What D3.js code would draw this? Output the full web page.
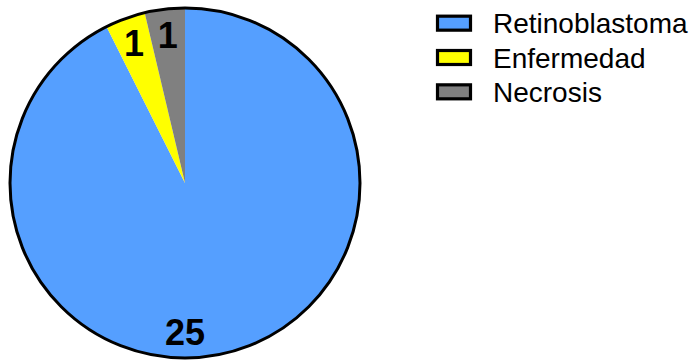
<!DOCTYPE html>
<html><head><meta charset="utf-8">
<script src="https://cdn.jsdelivr.net/npm/d3@7"></script>
<style>html,body{margin:0;padding:0;background:#fff;}svg{display:block;}</style>
</head><body>
<svg id="c" width="689" height="362"></svg>
<script>
const categories = ["Retinoblastoma", "Enfermedad", "Necrosis"];
const values = [25, 1, 1];
const colors = ["#559fff", "#ffff00", "#808080"];

const svg = d3.select("#c");
const cx = 185, cy = 183, R = 175;
const g = svg.append("g").attr("transform", `translate(${cx},${cy})`);
const data = categories.map((c, i) => ({name: c, value: values[i], color: colors[i]}));
const pie = d3.pie().value(d => d.value).sort(null);
const arcs = pie(data);
const arc = d3.arc().innerRadius(0).outerRadius(R);
g.selectAll("path.s").data(arcs).join("path").attr("class", "s")
  .attr("d", arc).attr("fill", d => d.data.color);
g.append("circle").attr("r", R).attr("fill", "none").attr("stroke", "#000").attr("stroke-width", 3);
const maxV = d3.max(values);
const lr = 149;
function labelPos(d) {
  // the dominant slice's label sits at the bottom of the pie
  const a = d.data.value === maxV ? Math.PI : (d.startAngle + d.endAngle) / 2;
  return [lr * Math.sin(a), -lr * Math.cos(a)];
}
g.selectAll("text.l").data(arcs).join("text").attr("class", "l")
  .attr("transform", d => `translate(${labelPos(d)})`)
  .attr("text-anchor", "middle").attr("dy", "0.36em")
  .attr("font-family", "Liberation Sans, Arial, sans-serif")
  .attr("font-weight", "bold").attr("font-size", 36)
  .text(d => d.data.value);

const lg = svg.append("g");
const y = d3.scaleBand().domain(categories).range([6, 109]);
const items = lg.selectAll("g").data(data).join("g")
  .attr("transform", d => `translate(0,${y(d.name) + y.bandwidth() / 2})`);
items.append("rect").attr("x", 437.5).attr("y", -7).attr("width", 33).attr("height", 14)
  .attr("fill", d => d.color).attr("stroke", "#000").attr("stroke-width", 3.2);
items.append("text").attr("x", 493).attr("dy", "0.36em")
  .attr("font-family", "Liberation Sans, Arial, sans-serif").attr("font-size", 28)
  .attr("fill", "#000").text(d => d.name);
</script>
</body></html>
